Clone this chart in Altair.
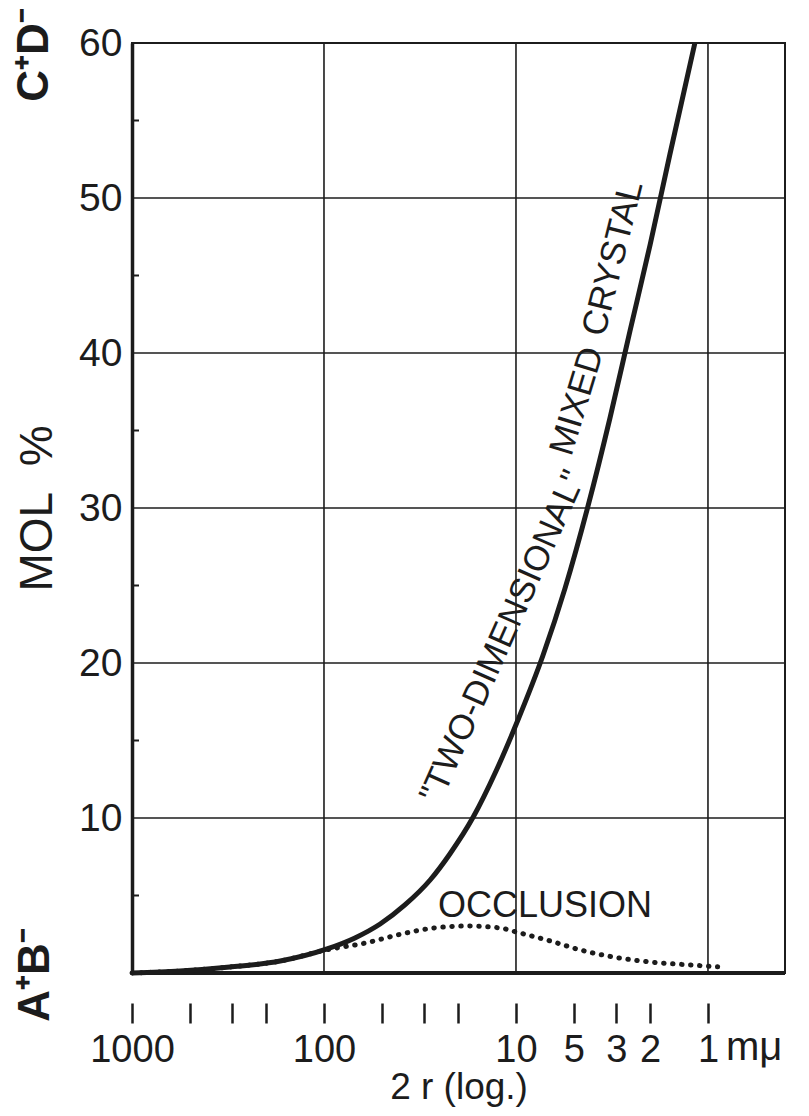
import altair as alt
import pandas as pd

INK = "#1c1c1c"
FONT = "Liberation Sans"

# axis ticks / labels
x_ticks = [1000, 500, 300, 200, 100, 50, 30, 20, 10, 5, 3, 2, 1]
x_labeled = [1000, 100, 10, 5, 3, 2, 1]
y_labels = [10, 20, 30, 40, 50, 60]
grid_x = [100, 10, 1]
grid_y = [10, 20, 30, 40, 50]
minor_y = [5, 15, 25, 35, 45, 55]

# "two-dimensional" mixed crystal curve (2r in m-mu, mol %)
crystal_size = [1000, 562, 309, 169, 96.4, 69, 51, 37.9, 28.0, 22.1, 16.7, 12.7,
                9.77, 7.23, 5.56, 4.22, 3.24, 2.55, 2.00, 1.58, 1.17]
crystal_mol = [0, 0.13, 0.39, 0.77, 1.55, 2.26, 3.16, 4.39, 6.0, 7.68, 10.06,
               13.03, 16.32, 20.5, 24.8, 30.1, 35.8, 41.4, 47.0, 52.8, 60.0]

# occlusion curve (dotted)
occl_size = [1000, 562, 309, 169, 96.4, 60, 40, 27, 18, 12, 10, 6.6, 4.6, 3.1,
             2.0, 1.24, 0.89]
occl_mol = [0, 0.13, 0.39, 0.77, 1.5, 1.95, 2.5, 2.9, 3.03, 2.9, 2.65, 2.06,
            1.48, 1.03, 0.71, 0.52, 0.4]

# curve label pieces
lbl_text = ['"TWO-DIMENSIONAL"', "MIXED", "CRYSTAL"]
lbl_size = [11.7, 4.81, 3.13]
lbl_mol = [21.7, 36.9, 46.1]
lbl_angle = [294, 287, 284]

occl_lbl_text = ["OCCLUSION"]
occl_lbl_size = [7.06]
occl_lbl_mol = [4.32]

crystal_df = pd.DataFrame({"size": crystal_size, "mol": crystal_mol})
occl_df = pd.DataFrame({"size": occl_size, "mol": occl_mol})
gx_df = pd.DataFrame({"size": grid_x})
gy_df = pd.DataFrame({"mol": grid_y})
my_df = pd.DataFrame({"mol": minor_y})
lbl_df = pd.DataFrame({"t": lbl_text, "size": lbl_size, "mol": lbl_mol, "a": lbl_angle})
occl_lbl_df = pd.DataFrame({"t": occl_lbl_text, "size": occl_lbl_size, "mol": occl_lbl_mol})

xscale = alt.Scale(type="log", domain=[0.397, 1000], reverse=True, nice=False)
yscale = alt.Scale(domain=[0, 60], nice=False)

label_expr = "indexof(%s, datum.value) >= 0 ? format(datum.value, 'd') : ''" % (
    "[" + ",".join(str(v) for v in x_labeled) + "]")

xaxis = alt.Axis(values=x_ticks, labelExpr=label_expr, grid=False, domain=False,
                 offset=30, tickSize=20, tickWidth=2.5, tickColor=INK,
                 labelPadding=8, labelFontSize=38, labelFont=FONT, labelColor=INK,
                 labelOverlap=False, labelFlush=False,
                 title="2 r (log.)", titleFontSize=37, titleFont=FONT,
                 titleFontWeight="normal", titleColor=INK, titlePadding=0)
yaxis = alt.Axis(values=y_labels, grid=False, ticks=False, tickSize=0, domain=True,
                 domainWidth=3.5, domainColor=INK, labelPadding=10, labelFontSize=39,
                 labelFont=FONT, labelColor=INK,
                 title="MOL\u00a0\u00a0%", titleFontSize=46, titleFont=FONT,
                 titleFontWeight="normal", titleColor=INK, titlePadding=17)


def X(f="size"):
    return alt.X(f"{f}:Q", scale=xscale, axis=xaxis)


def Y(f="mol"):
    return alt.Y(f"{f}:Q", scale=yscale, axis=yaxis)


grid_v = alt.Chart(gx_df).mark_rule(color=INK, strokeWidth=1.6).encode(x=X())
grid_h = alt.Chart(gy_df).mark_rule(color=INK, strokeWidth=1.6).encode(y=Y())
minor = alt.Chart(my_df).mark_rule(color=INK, strokeWidth=2).encode(
    y=Y(), x=alt.value(0), x2=alt.value(7))
bottom = alt.Chart(gy_df).mark_rule(color=INK, strokeWidth=4).encode(y=alt.datum(0))

occl = alt.Chart(occl_df).mark_line(
    color=INK, strokeWidth=5, strokeDash=[0.5, 8.5], strokeCap="round",
    interpolate="monotone").encode(x=X(), y=Y())
crystal = alt.Chart(crystal_df).mark_line(
    color=INK, strokeWidth=5, interpolate="monotone").encode(x=X(), y=Y())

curve_lbl = alt.Chart(lbl_df).mark_text(
    font=FONT, fontSize=35, color=INK, align="center", baseline="middle").encode(
    x=X(), y=Y(), text="t:N", angle=alt.Angle("a:Q", scale=None))
occl_lbl = alt.Chart(occl_lbl_df).mark_text(
    font=FONT, fontSize=36, color=INK,
    align="center", baseline="middle").encode(x=X(), y=Y(), text="t:N")

ion_df = pd.DataFrame({"t": ["C\u207aD\u207b"]})
ion2_df = pd.DataFrame({"t": ["A\u207aB\u207b"]})
ion_top = alt.Chart(ion_df).mark_text(
    font=FONT, fontSize=44, fontWeight="bold", color=INK, angle=270,
    align="center", baseline="middle").encode(
    text="t:N", x=alt.value(-97), y=alt.value(12))
ion_bot = alt.Chart(ion2_df).mark_text(
    font=FONT, fontSize=44, fontWeight="bold", color=INK, angle=270,
    align="center", baseline="middle").encode(
    text="t:N", x=alt.value(-96), y=alt.value(932))
unit_df = pd.DataFrame({"t": ["m\u03bc"]})
unit = alt.Chart(unit_df).mark_text(
    font=FONT, fontSize=40, color=INK, align="left", baseline="alphabetic").encode(
    text="t:N", x=alt.value(594), y=alt.value(1017))

chart = alt.layer(
    grid_v, grid_h, minor, bottom, occl, crystal, curve_lbl, occl_lbl,
    ion_top, ion_bot, unit
).properties(
    width=653, height=930,
    padding={"left": 124, "top": 35, "right": 16, "bottom": 135},
    autosize=alt.AutoSizeParams(type="none"),
    background="white",
).configure_view(stroke=INK, strokeWidth=2)

chart.save("out.html", embed_options={"renderer": "svg", "actions": False})
